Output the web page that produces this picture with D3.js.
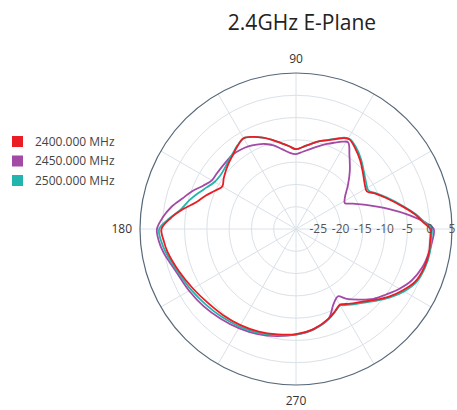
<!DOCTYPE html>
<html>
<head>
<meta charset="utf-8">
<script src="https://cdn.jsdelivr.net/npm/d3@7"></script>
<style>
  body { margin: 0; background: #fff; }
  svg { display: block; font-family: "Open Sans", sans-serif; }
</style>
</head>
<body>
<svg id="chart" width="457" height="410"></svg>
<script>
// angles in degrees (0 = right, counterclockwise)
const theta = [0, 3, 7, 12, 19, 24, 28, 33, 40, 47, 54, 59, 62, 66, 70, 75, 80, 85, 90,
  95, 100, 105, 110, 115, 120, 125, 130, 135, 140, 145, 150, 155, 160, 165, 170, 175, 180,
  185, 190, 200, 210, 220, 230, 240, 250, 260, 270, 280, 290, 296, 300, 302, 306, 312,
  318, 324, 330, 336, 343, 350, 355];

const gain2400 = [0.1, -1.4, -3.1, -5.6, -8.6, -10.5, -12.0, -11.6, -10.4, -8.9, -7.5, -6.6, -6.9, -7.9, -8.8, -9.6, -10.6, -11.5, -12.1,
  -11.3, -10.4, -9.3, -8.2, -7.2, -6.5, -7.2, -8.1, -8.8, -9.5, -10.2, -10.9, -9.8, -8.3, -6.8, -4.3, -1.8, 0.2,
  -0.2, -0.7, -2.1, -3.3, -4.2, -4.7, -5.1, -5.5, -6.0, -6.4, -7.2, -8.6, -9.7, -10.4, -10.1, -9.3, -8.0,
  -6.2, -4.2, -2.4, -0.8, 0.0, 0.3, 0.2];

const gain2450 = [0.9, -1.0, -4.4, -8.6, -13.4, -16.0, -17.6, -16.9, -14.8, -12.3, -9.6, -7.3, -7.8, -8.8, -9.7, -10.8, -11.8, -12.6, -13.2,
  -12.8, -11.8, -10.6, -9.7, -9.1, -8.6, -8.3, -8.1, -8.2, -8.3, -8.3, -8.2, -7.0, -5.2, -3.6, -1.6, 0.0, 1.2,
  0.9, 0.2, -1.5, -2.3, -3.0, -3.7, -4.3, -4.9, -5.6, -6.3, -7.2, -8.6, -11.0, -12.0, -12.2, -10.6, -8.7,
  -6.6, -5.0, -3.2, -1.6, -0.4, 0.3, 0.7];

const gain2500 = [0.4, -1.1, -2.9, -5.4, -8.4, -10.3, -11.6, -11.2, -10.1, -8.6, -7.2, -6.5, -6.8, -7.8, -8.7, -9.6, -10.6, -11.5, -12.1,
  -11.3, -10.4, -9.3, -8.2, -7.2, -6.5, -7.1, -7.9, -8.5, -9.0, -9.2, -8.9, -7.9, -6.6, -5.2, -3.9, -1.6, 0.7,
  0.4, -0.3, -1.8, -2.8, -3.6, -4.2, -4.7, -5.2, -5.8, -6.3, -7.1, -8.5, -9.6, -10.2, -9.8, -9.0, -7.7,
  -5.9, -3.9, -2.0, -0.5, 0.2, 0.5, 0.4];

const seriesNames = ['2400.000 MHz', '2450.000 MHz', '2500.000 MHz'];
const seriesColors = ['#ea1c24', '#a24aa6', '#22b5ad'];
const radialTicks = [-25, -20, -15, -10, -5, 0, 5];
const angleTicks = [90, 180, 270];

const cx = 296, cy = 229, R = 156;

const svg = d3.select('#chart');
svg.append('rect').attr('width', 457).attr('height', 410).attr('fill', '#fff');

svg.append('text')
  .attr('x', 302)
  .attr('y', 30)
  .attr('text-anchor', 'middle')
  .attr('font-size', '21px')
  .attr('fill', '#222')
  .text('2.4GHz E-Plane');

const r = d3.scaleLinear().domain([-30, 5]).range([0, R]);
const toRad = deg => (90 - deg) * Math.PI / 180; // d3 radial angle

const g = svg.append('g').attr('transform', `translate(${cx},${cy})`);

// grid circles
g.selectAll('.ring')
  .data(radialTicks.slice(0, -1))
  .enter()
  .append('circle')
  .attr('r', d => r(d))
  .attr('fill', 'none')
  .attr('stroke', '#dae1e8')
  .attr('stroke-width', 1);

// spokes every 30 degrees
g.selectAll('.spoke')
  .data(d3.range(0, 360, 30))
  .enter()
  .append('line')
  .attr('x1', 0).attr('y1', 0)
  .attr('x2', d => R * Math.cos(d * Math.PI / 180))
  .attr('y2', d => -R * Math.sin(d * Math.PI / 180))
  .attr('stroke', '#dae1e8')
  .attr('stroke-width', 1);

// outer circle
g.append('circle')
  .attr('r', R)
  .attr('fill', 'none')
  .attr('stroke', '#56687a')
  .attr('stroke-width', 1.2);

// traces
const line = d3.lineRadial()
  .angle((d, i) => toRad(theta[i]))
  .radius(d => r(d))
  .curve(d3.curveCatmullRomClosed.alpha(0.5));

const traces = [gain2450, gain2500, gain2400];
const traceColors = [seriesColors[1], seriesColors[2], seriesColors[0]];
g.selectAll('.trace')
  .data(traces)
  .enter()
  .append('path')
  .attr('d', d => line(d))
  .attr('fill', 'none')
  .attr('stroke', (d, i) => traceColors[i])
  .attr('stroke-width', 1.8)
  .attr('stroke-linejoin', 'round');

// radial tick labels
g.selectAll('.rtick')
  .data(radialTicks)
  .enter()
  .append('text')
  .attr('x', d => r(d))
  .attr('y', 0)
  .attr('dy', '0.35em')
  .attr('text-anchor', 'middle')
  .attr('font-size', '12px')
  .attr('fill', '#555')
  .text(d => d);

// angular tick labels
g.selectAll('.atick')
  .data(angleTicks)
  .enter()
  .append('text')
  .attr('x', d => (R + (d === 180 ? 8 : 14)) * Math.cos(d * Math.PI / 180))
  .attr('y', d => -(R + (d === 270 ? 16 : 14)) * Math.sin(d * Math.PI / 180))
  .attr('dy', '0.35em')
  .attr('text-anchor', d => d === 180 ? 'end' : 'middle')
  .attr('font-size', '12px')
  .attr('fill', '#333')
  .text(d => d);

// legend
const legend = svg.append('g').attr('transform', 'translate(12,136)');
const item = legend.selectAll('.item')
  .data(seriesNames)
  .enter()
  .append('g')
  .attr('transform', (d, i) => `translate(0,${i * 19.5})`);

item.append('rect')
  .attr('width', 11)
  .attr('height', 11)
  .attr('fill', (d, i) => seriesColors[i]);

item.append('text')
  .attr('x', 23)
  .attr('y', 5.5)
  .attr('dy', '0.35em')
  .attr('font-size', '12px')
  .attr('fill', '#444')
  .text(d => d);
</script>
</body>
</html>
